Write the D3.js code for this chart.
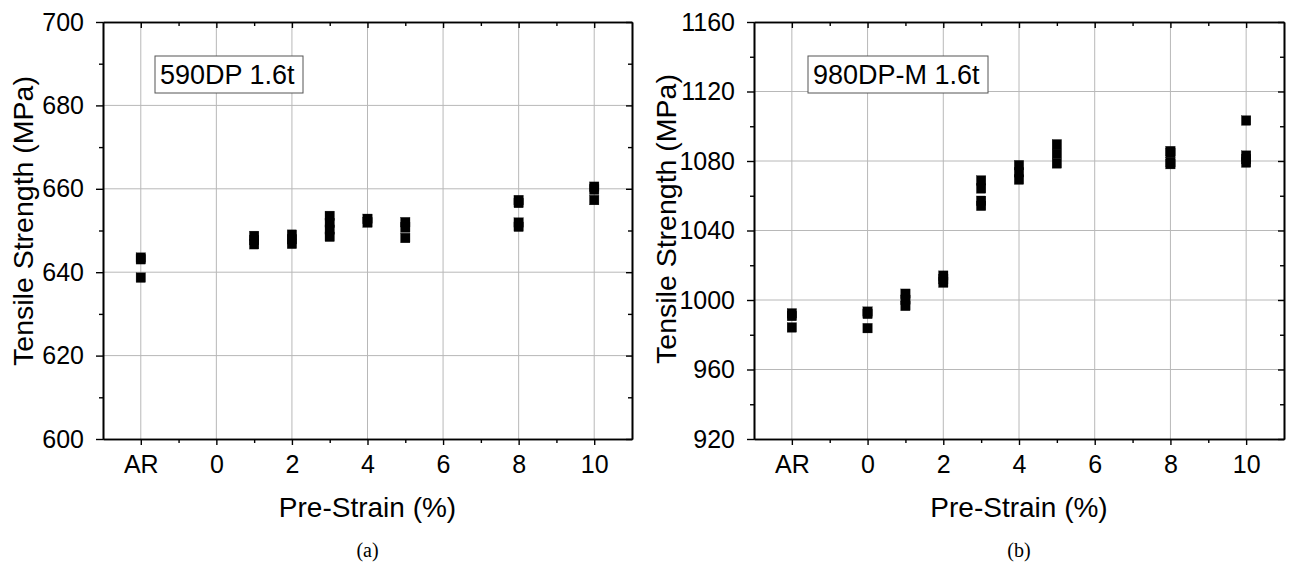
<!DOCTYPE html>
<html><head><meta charset="utf-8">
<script src="https://cdn.jsdelivr.net/npm/d3@7"></script>
<style>body{margin:0;background:#fff}svg{display:block}</style>
</head><body>
<svg id="c" width="1290" height="568"></svg>
<script>
// ---- data ----
const strainLevels = ["AR","0","1","2","3","4","5","8","10"];
const strainX      = [-2, 0, 1, 2, 3, 4, 5, 8, 10];
const xMajorTicks  = [-2, 0, 2, 4, 6, 8, 10];
const xTickLabels  = ["AR","0","2","4","6","8","10"];
const xMinorTicks  = [-1, 1, 3, 5, 7, 9];

// Tensile strength (MPa), several specimens per pre-strain level
const ts590DP = [
  [643.5, 643.1, 638.7],
  [],
  [648.7, 647.7, 646.7],
  [649.0, 647.9, 646.8],
  [653.5, 651.8, 650.2, 648.5],
  [652.8, 651.9],
  [652.0, 650.7, 648.2],
  [657.3, 656.6, 651.9, 650.9],
  [660.5, 659.8, 657.3]
];
const ts980DPM = [
  [992.3, 990.8, 984.2],
  [993.3, 992.0, 983.8],
  [1003.6, 1000.1, 996.6],
  [1014.0, 1012.0, 1010.0],
  [1068.8, 1064.2, 1057.1, 1054.2],
  [1077.6, 1073.5, 1069.3],
  [1089.6, 1084.1, 1078.6],
  [1085.7, 1084.7, 1079.3, 1078.2],
  [1103.3, 1083.1, 1081.1, 1079.1]
];
const yTicks590  = [600, 620, 640, 660, 680, 700];
const yMinor590  = [610, 630, 650, 670, 690];
const yTicks980  = [920, 960, 1000, 1040, 1080, 1120, 1160];
const yMinor980  = [940, 980, 1020, 1060, 1100, 1140];

const panels = [
  {label:"590DP 1.6t", caption:"(a)", data:ts590DP, yDomain:[600,700], yTicks:yTicks590, yMinor:yMinor590,
   left:103, right:632, box:[155,56,148,37], titleX:33, titleY:221},
  {label:"980DP-M 1.6t", caption:"(b)", data:ts980DPM, yDomain:[920,1160], yTicks:yTicks980, yMinor:yMinor980,
   left:754, right:1284, box:[808,56,180,37], titleX:676, titleY:219}
];

const svg = d3.select("#c");
const yTop = 22, yBottom = 439;
const FONT = "'Liberation Sans', Arial, sans-serif";

panels.forEach(p => {
  const x = d3.scaleLinear().domain([-3, 11]).range([p.left, p.right]);
  const y = d3.scaleLinear().domain(p.yDomain).range([yBottom, yTop]);
  const g = svg.append("g");

  // grid
  g.append("g").selectAll("line").data(xMajorTicks).join("line")
    .attr("x1", d => x(d)).attr("x2", d => x(d)).attr("y1", yTop).attr("y2", yBottom)
    .attr("stroke", "#b8b8b8").attr("stroke-width", 1);
  g.append("g").selectAll("line").data(p.yTicks.slice(1, -1)).join("line")
    .attr("x1", p.left).attr("x2", p.right).attr("y1", d => y(d)).attr("y2", d => y(d))
    .attr("stroke", "#b8b8b8").attr("stroke-width", 1);

  const styleAxis = sel => {
    sel.selectAll("path").attr("stroke", "#000").attr("stroke-width", 1.6);
    sel.selectAll("line").attr("stroke", "#000").attr("stroke-width", 1.4);
    sel.selectAll("text").attr("font-family", FONT).attr("font-size", 25).attr("fill", "#000");
  };

  // bottom axis
  g.append("g").attr("transform", `translate(0,${yBottom})`)
    .call(d3.axisBottom(x).tickValues(xMajorTicks).tickFormat((d, i) => xTickLabels[i]).tickSize(6).tickSizeOuter(0).tickPadding(10))
    .call(styleAxis);
  g.append("g").attr("transform", `translate(0,${yBottom})`)
    .call(d3.axisBottom(x).tickValues(xMinorTicks).tickFormat("").tickSize(4).tickSizeOuter(0))
    .call(styleAxis);
  // top axis (inward)
  g.append("g").attr("transform", `translate(0,${yTop})`)
    .call(d3.axisTop(x).tickValues(xMajorTicks).tickFormat("").tickSize(-6).tickSizeOuter(0))
    .call(styleAxis);
  g.append("g").attr("transform", `translate(0,${yTop})`)
    .call(d3.axisTop(x).tickValues(xMinorTicks).tickFormat("").tickSize(-4).tickSizeOuter(0))
    .call(styleAxis);
  // left axis
  g.append("g").attr("transform", `translate(${p.left},0)`)
    .call(d3.axisLeft(y).tickValues(p.yTicks).tickFormat(d3.format("d")).tickSize(7).tickSizeOuter(0).tickPadding(12))
    .call(styleAxis);
  g.append("g").attr("transform", `translate(${p.left},0)`)
    .call(d3.axisLeft(y).tickValues(p.yMinor).tickFormat("").tickSize(4).tickSizeOuter(0))
    .call(styleAxis);
  // right axis (inward)
  g.append("g").attr("transform", `translate(${p.right},0)`)
    .call(d3.axisRight(y).tickValues(p.yTicks).tickFormat("").tickSize(-6).tickSizeOuter(0))
    .call(styleAxis);
  g.append("g").attr("transform", `translate(${p.right},0)`)
    .call(d3.axisRight(y).tickValues(p.yMinor).tickFormat("").tickSize(-4).tickSizeOuter(0))
    .call(styleAxis);

  // data points
  const pts = [];
  p.data.forEach((vals, i) => vals.forEach(v => pts.push({x: strainX[i], v})));
  g.append("g").selectAll("rect").data(pts).join("rect")
    .attr("x", d => x(d.x) - 4.7).attr("y", d => y(d.v) - 4.8)
    .attr("width", 9.4).attr("height", 9.6)
    .attr("fill", "#000").attr("stroke", "#000").attr("stroke-width", 0.3);

  // label box
  const [bx, by, bw, bh] = p.box;
  g.append("rect").attr("x", bx).attr("y", by).attr("width", bw).attr("height", bh)
    .attr("fill", "#fff").attr("stroke", "#555").attr("stroke-width", 1);
  g.append("text").attr("x", bx + 5).attr("y", by + 28)
    .attr("font-family", FONT).attr("font-size", 27).text(p.label);

  // axis titles
  const cx = (p.left + p.right) / 2;
  g.append("text").attr("x", cx).attr("y", 517).attr("text-anchor", "middle")
    .attr("font-family", FONT).attr("font-size", 28).text("Pre-Strain (%)");
  g.append("text").attr("transform", `translate(${p.titleX},${p.titleY}) rotate(-90)`)
    .attr("text-anchor", "middle").attr("font-family", FONT).attr("font-size", 28.5)
    .text("Tensile Strength (MPa)");
  // caption
  g.append("text").attr("x", cx).attr("y", 557).attr("text-anchor", "middle")
    .attr("font-family", "'Liberation Serif', 'DejaVu Serif', serif").attr("font-size", 20).text(p.caption);
});
</script>
</body></html>
